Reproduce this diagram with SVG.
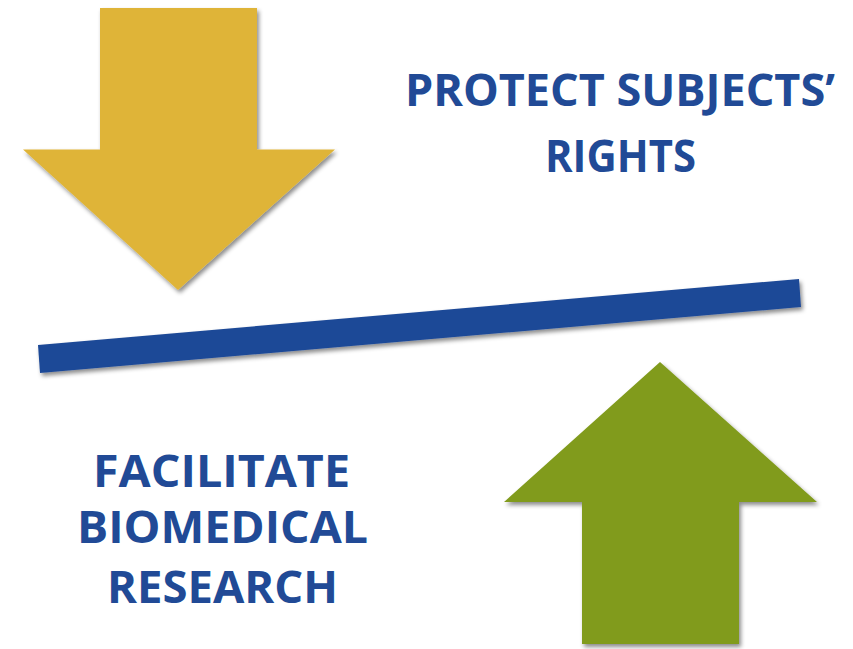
<svg xmlns="http://www.w3.org/2000/svg" width="853" height="649" viewBox="0 0 853 649">
<defs>
<filter id="sh" x="-10%" y="-10%" width="120%" height="130%">
<feDropShadow dx="2" dy="3" stdDeviation="2" flood-color="#000" flood-opacity="0.45"/>
</filter>
<style>
.t{font-family:"Open Sans","Noto Sans","Liberation Sans",sans-serif;font-weight:bold;font-size:44px;fill:#214A96;text-anchor:middle}
</style>
</defs>
<rect width="853" height="649" fill="#fff"/>
<g id="down-arrow">
<polygon points="100,8 257,8 257,149.5 335,149.5 178,290 23,149.5 100,149.5" fill="#DFB438" filter="url(#sh)"/>
</g>
<g id="up-arrow">
<polygon points="660,362 817,502 739,502 739,644 582,644 582,502 504,502" fill="#819B1F" filter="url(#sh)"/>
</g>
<g id="beam">
<polygon points="38,345 799,279 801,307 40,373" fill="#1F4A97" filter="url(#sh)"/>
</g>
<g id="label-protect">
<text class="t" x="620" y="106" textLength="430" lengthAdjust="spacingAndGlyphs">PROTECT SUBJECTS’</text>
<text class="t" x="620.5" y="171.5" textLength="151" lengthAdjust="spacingAndGlyphs">RIGHTS</text>
</g>
<g id="label-facilitate">
<text class="t" x="221.5" y="486.5" textLength="257" lengthAdjust="spacingAndGlyphs">FACILITATE</text>
<text class="t" x="222.5" y="543" textLength="291" lengthAdjust="spacingAndGlyphs">BIOMEDICAL</text>
<text class="t" x="222.5" y="603" textLength="231" lengthAdjust="spacingAndGlyphs">RESEARCH</text>
</g>
<g id="connectors"></g>
</svg>
